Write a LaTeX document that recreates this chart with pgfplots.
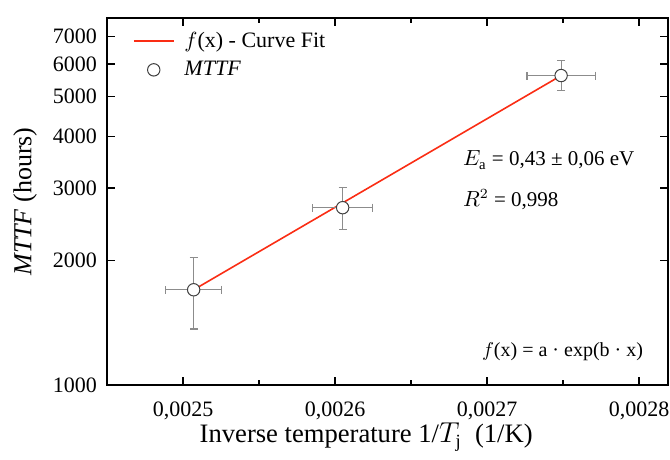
\documentclass[border=0pt]{standalone}
\usepackage{pgfplots}
\pgfplotsset{compat=1.18}
\usepackage{fontspec}
\setmainfont{Liberation Serif}
\definecolor{fitred}{RGB}{250,45,20}
\pgfplotsset{
  longline/.style={legend image code/.code={\draw[#1] (0cm,0cm) -- (0.7cm,0cm);}},
  centermark/.style={legend image code/.code={\draw[#1] plot coordinates {(0.35cm,0cm)};}},
}
\begin{document}
\begin{tikzpicture}[font=\fontsize{11}{13}\selectfont]
\begin{axis}[
  name=ax,
  width=280.5pt, height=183.5pt, scale only axis,
  ymode=log,
  xmin=0.00245, xmax=0.002819,
  ymin=1000, ymax=7750,
  xtick={0.0025,0.0026,0.0027,0.0028},
  minor x tick num=1,
  ytick={1000,2000,3000,4000,5000,6000,7000},
  yminorticks=false,
  log ticks with fixed point,
  /pgf/number format/assume math mode=true,
  xticklabel style={yshift=-5pt, /pgf/number format/.cd,fixed,precision=4,use comma,zerofill},
  yticklabel style={xshift=-1.5pt, /pgf/number format/.cd,fixed,1000 sep={}},
  scaled x ticks=false,
  tick align=inside,
  major tick length=4pt, minor tick length=2.5pt,
  axis line style={line width=1pt},
  every tick/.style={line width=0.7pt, black},
  xlabel={Inverse temperature 1/$T_{\mathrm{j}}$\ \ (1/K)},
  ylabel={\textit{MTTF} (hours)},
  xlabel style={font=\fontsize{13.3}{15}\selectfont, at={(rel axis cs:0.462,-0.1417)}, anchor=center},
  ylabel style={font=\fontsize{13}{15}\selectfont, at={(rel axis cs:-0.146,0.5)}, anchor=center},
  legend style={draw=none, fill=none, at={(0.035,0.985)}, anchor=north west, font=\fontsize{11}{13}\selectfont, row sep=1.5pt,
    /tikz/every odd column/.append style={column sep=3pt}},
  legend cell align=left,
  clip=false,
]
\addplot[fitred, line width=0.8pt, longline] coordinates {(0.002507,1701) (0.0027487,5620)};
\addlegendentry{$f$(x) - Curve Fit}
\addplot[draw=none, forget plot,
  error bars/.cd, x dir=both, y dir=both, x explicit, y explicit,
  error bar style={black!45, line width=0.6pt}, error mark options={rotate=90, mark size=2pt, black!45, line width=0.6pt}]
  coordinates {
  (0.002507,1701) -= (0.0000184,334) += (0.0000184,333)
  (0.002605,2689) -= (0.0000197,311) += (0.0000197,319)
  (0.0027487,5620) -= (0.0000224,449) += (0.0000224,493)
  };
\addplot[only marks, mark=*, mark size=3.1pt, mark options={fill=white, draw=black!75, line width=0.5pt}, centermark]
  coordinates {(0.002507,1701) (0.002605,2689) (0.0027487,5620)};
\addlegendentry{\textit{MTTF}}
\node[anchor=west, font=\fontsize{10.5}{12}\selectfont] at (rel axis cs:0.622,0.613) {$E_{\mathrm{a}}$ = 0,43 ± 0,06 eV};
\node[anchor=west, font=\fontsize{10.5}{12}\selectfont] at (rel axis cs:0.622,0.504) {$R^{2}$ = 0,998};
\node[anchor=east, font=\fontsize{10}{12}\selectfont] at (rel axis cs:0.968,0.09) {$f$(x) = a · exp(b · x)};
\end{axis}
\pgfresetboundingbox
\path ([shift={(-53.5pt,-37.5pt)}]ax.south west) rectangle ([shift={(1pt,9pt)}]ax.north east);
\end{tikzpicture}
\end{document}
